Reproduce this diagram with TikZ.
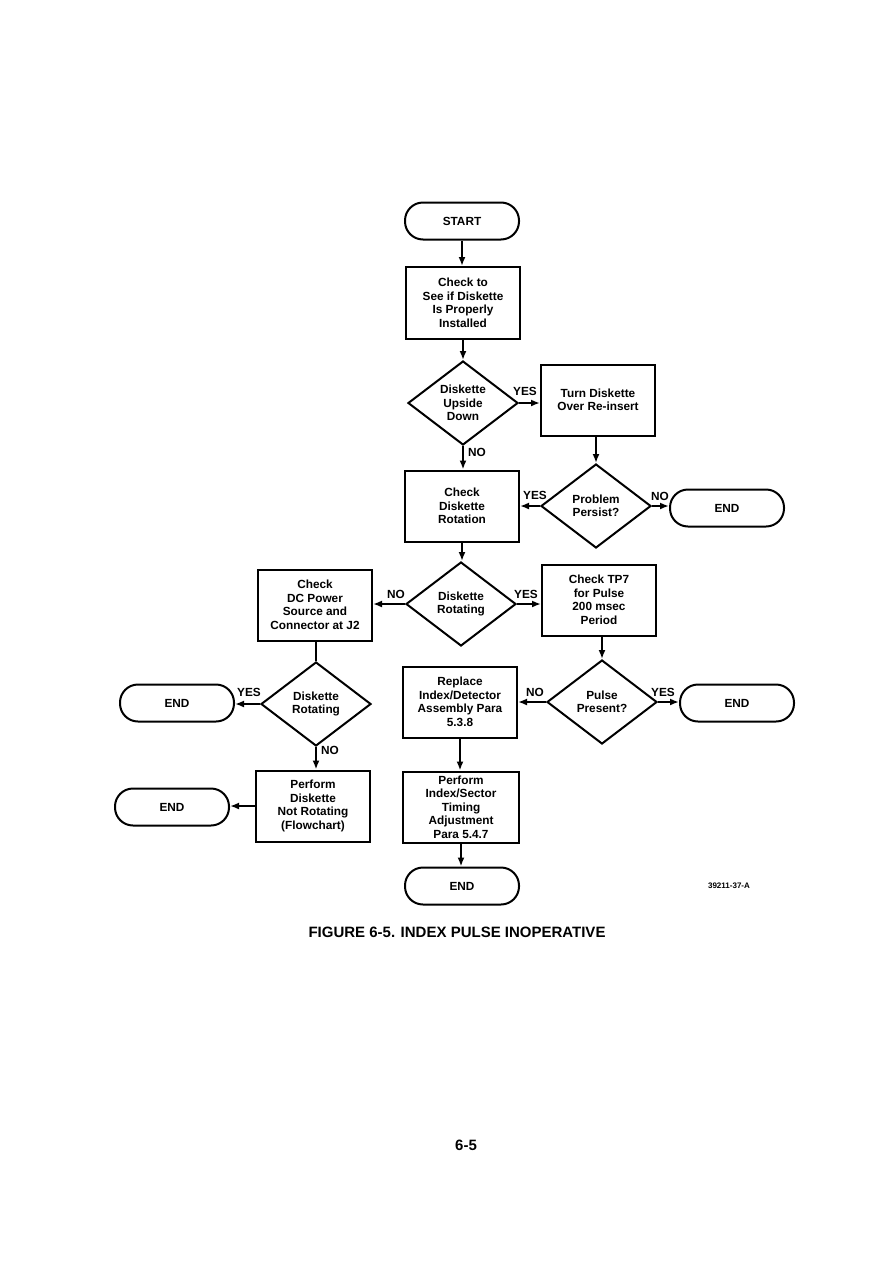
\documentclass[tikz,border=0pt]{standalone}
\usepackage{fontspec}
\setmainfont{Liberation Sans}
\usetikzlibrary{shapes.geometric,arrows.meta}
\begin{document}
\begin{tikzpicture}[x=1pt,y=-1pt,
  every node/.style={font=\bfseries\fontsize{11.8}{13.5}\selectfont, align=center},
  box/.style={draw, line width=2pt, minimum width=114pt, minimum height=71pt, inner sep=1pt},
  term/.style={draw, line width=2pt, rounded corners=18pt, minimum width=114pt, minimum height=37pt},
  dia/.style={draw, diamond, line width=2pt, minimum width=110pt, minimum height=84pt, inner sep=0pt},
  conn/.style={line width=2pt, -{Latex[length=9pt,width=7pt]}},
  line/.style={line width=2pt},
  lab/.style={font=\bfseries\fontsize{11.8}{12}\selectfont, inner sep=1pt}]
\useasboundingbox (0,0) rectangle (892,1261);
\fill[white] (0,0) rectangle (892,1261);

\node[term] (start) at (462,221) {START};
\node[box, minimum height=72pt] (chk) at (463,303) {Check to\\See if Diskette\\Is Properly\\Installed};
\node[dia] (d1) at (463,403) {Diskette\\Upside\\Down};
\node[box] (turn) at (598,400) {Turn Diskette\\Over Re-insert};
\node[box] (rot) at (462,506) {Check\\Diskette\\Rotation};
\node[dia] (pp) at (596,506) {Problem\\Persist?};
\node[term] (end1) at (727,508) {END};
\node[dia] (dr) at (461,604) {Diskette\\Rotating};
\node[box] (tp7) at (599,600) {Check TP7\\for Pulse\\200 msec\\Period};
\node[box] (dc) at (315,605) {Check\\DC Power\\Source and\\Connector at J2};
\node[dia] (dl) at (316,704) {Diskette\\Rotating};
\node[term] (endL1) at (177,703) {END};
\node[box] (perfD) at (313,806) {Perform\\Diskette\\Not Rotating\\(Flowchart)};
\node[term] (endL2) at (172,807) {END};
\node[box] (repl) at (460,702) {Replace\\Index/Detector\\Assembly Para\\5.3.8};
\node[dia] (pulse) at (602,702) {Pulse\\Present?};
\node[term] (endR) at (737,703) {END};
\node[box, minimum width=116pt] (perfI) at (461,807) {Perform\\Index/Sector\\Timing\\Adjustment\\Para 5.4.7};
\node[term] (endB) at (462,886) {END};

\draw[conn] (start.south) -- (start.south |- chk.north);
\draw[conn] (chk.south) -- (chk.south |- d1.north);
\draw[conn] (d1.east) -- (d1.east -| turn.west);
\draw[conn] (d1.south) -- (d1.south |- rot.north);
\draw[conn] (turn.south -| pp.north) -- (pp.north);
\draw[conn] (pp.west) -- (pp.west -| rot.east);
\draw[conn] (pp.east) -- (pp.east -| end1.west);
\draw[conn] (rot.south) -- (rot.south |- dr.north);
\draw[conn] (dr.west) -- (dr.west -| dc.east);
\draw[conn] (dr.east) -- (dr.east -| tp7.west);
\draw[line] (dc.south -| dl.north) -- (dl.north);
\draw[conn] (dl.west) -- (dl.west -| endL1.east);
\draw[conn] (dl.south) -- (dl.south |- perfD.north);
\draw[conn] (perfD.west) -- (perfD.west -| endL2.east);
\draw[conn] (tp7.south -| pulse.north) -- (pulse.north);
\draw[conn] (pulse.west) -- (pulse.west -| repl.east);
\draw[conn] (pulse.east) -- (pulse.east -| endR.west);
\draw[conn] (repl.south) -- (repl.south |- perfI.north);
\draw[conn] (perfI.south) -- (perfI.south |- endB.north);

\node[lab] (l1) at (525,391) {YES};
\node[lab] (l2) at (477,452) {NO};
\node[lab] (l3) at (535,495) {YES};
\node[lab] (l4) at (660,496) {NO};
\node[lab] (l5) at (396,594) {NO};
\node[lab] (l6) at (526,594) {YES};
\node[lab] (l7) at (249,692) {YES};
\node[lab] (l8) at (330,750) {NO};
\node[lab] (l9) at (535,692) {NO};
\node[lab] (l10) at (663,692) {YES};

\node[font=\bfseries\fontsize{8}{9}\selectfont] (code) at (729,886) {39211-37-A};
\node[font=\bfseries\fontsize{15}{16}\selectfont] (cap) at (457,932) {FIGURE 6-5. INDEX PULSE INOPERATIVE};
\node[font=\bfseries\fontsize{15}{16}\selectfont] (pg) at (466,1145) {6-5};
\end{tikzpicture}
\end{document}
